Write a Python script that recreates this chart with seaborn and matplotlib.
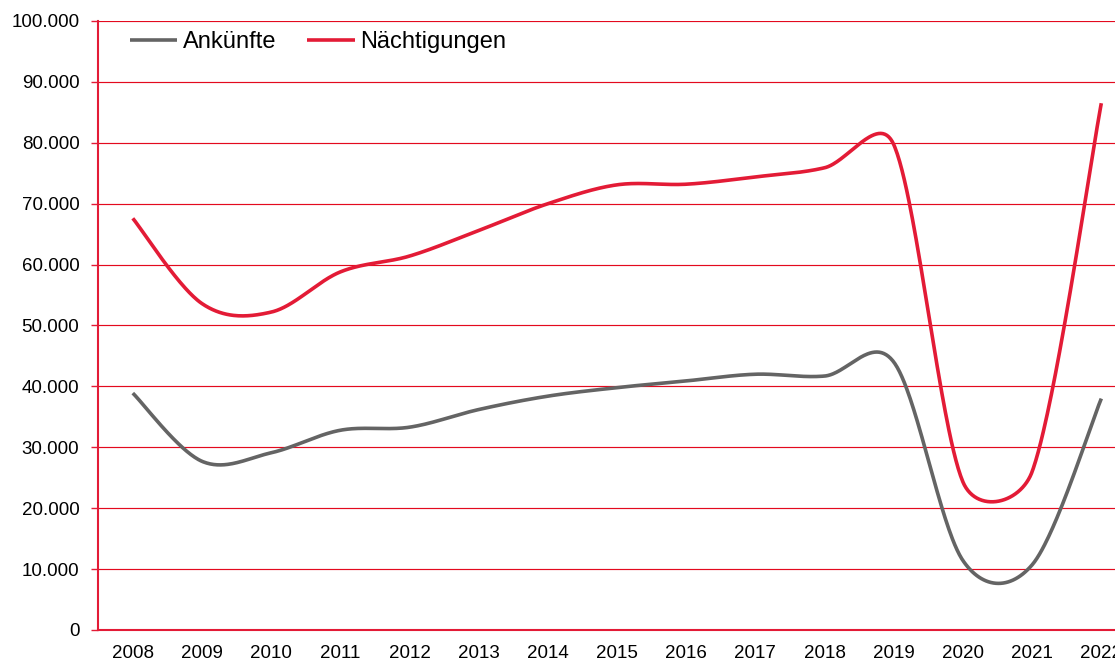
"""
Ankünfte und Nächtigungen 2008-2022 as smoothed line chart (Excel-style curve).
"""

import numpy as np
import pandas as pd
import seaborn as sns
import matplotlib.pyplot as plt
from matplotlib.ticker import FuncFormatter, FixedLocator

# Data
years = [str(y) for y in range(2008, 2023)]
ankuenfte = [38900, 27700, 29100, 32800, 33300, 36200, 38400, 39800,
             40900, 42000, 41700, 44000, 11400, 10700, 38000]
naechtigungen = [67600, 53600, 52200, 58800, 61400, 65600, 70000, 73100,
                 73200, 74400, 75900, 79700, 24300, 26000, 86500]

RED = "#E31B36"
GRAY = "#646464"
GRID_RED = "#E30A1E"

sns.set_style("white")
plt.rcParams["font.family"] = ["Liberation Sans", "DejaVu Sans"]
plt.rcParams["text.color"] = "black"
plt.rcParams["xtick.labelcolor"] = "black"
plt.rcParams["ytick.labelcolor"] = "black"

fig = plt.figure(figsize=(11.15, 6.61), dpi=100)
# category axis runs past the right edge of the picture, like the reference crop
ax = fig.add_axes([98.2 / 1115, 31 / 661, 15 * 69.18 / 1115, 609 / 661])
ax.set_xlim(-0.5, len(years) - 0.5)
ax.set_ylim(0, 100000)


def excel_smooth(xs, ys, n=60):
    """Bezier smoothing like Excel: handle = min(|P[i+1]-P[i-1]|/6, segment/2), in pixels."""
    pts = ax.transData.transform(np.column_stack([xs, ys]))
    m = len(pts)
    out = []
    for i in range(m - 1):
        p0 = pts[max(i - 1, 0)]
        p1 = pts[i]
        p2 = pts[i + 1]
        p3 = pts[min(i + 2, m - 1)]
        seg = np.linalg.norm(p2 - p1)

        d02 = p2 - p0
        l02 = np.linalg.norm(d02)
        h1 = min(l02 / 6, seg / 2)
        c1 = p1 + (d02 / l02 * h1 if l02 > 0 else 0)

        d13 = p3 - p1
        l13 = np.linalg.norm(d13)
        h2 = min(l13 / 6, seg / 2)
        c2 = p2 - (d13 / l13 * h2 if l13 > 0 else 0)

        t = np.linspace(0, 1, n)[:, None]
        if i > 0:
            t = t[1:]
        bez = ((1 - t) ** 3) * p1 + 3 * ((1 - t) ** 2) * t * c1 \
            + 3 * (1 - t) * t ** 2 * c2 + t ** 3 * p2
        out.append(bez)
    curve = np.vstack(out)
    return ax.transData.inverted().transform(curve)


xpos = np.arange(len(years))
series = [("Ankünfte", ankuenfte, GRAY), ("Nächtigungen", naechtigungen, RED)]
for name, vals, col in series:
    curve = excel_smooth(xpos, vals)
    df = pd.DataFrame({"x": curve[:, 0], "y": curve[:, 1]})
    sns.lineplot(data=df, x="x", y="y", sort=False, color=col, linewidth=2.6,
                 label=name, ax=ax, solid_capstyle="butt", zorder=3)

# y axis: German thousands separator
ax.yaxis.set_major_locator(FixedLocator(np.arange(0, 100001, 10000)))
ax.yaxis.set_major_formatter(FuncFormatter(lambda v, p: f"{int(v):,}".replace(",", ".")))
ax.yaxis.grid(True, color=GRID_RED, linewidth=0.85)
ax.xaxis.grid(False)

# x axis: labels in the middle of the categories, ticks between them
ax.set_xticks(xpos)
ax.set_xticklabels(years)
ax.set_xticks(np.arange(-0.5, len(years), 1.0), minor=True)
ax.tick_params(axis="x", which="major", length=0, pad=11, labelsize=13.5)
ax.tick_params(axis="x", which="minor", length=5, width=1, color=RED, direction="out")
ax.tick_params(axis="y", length=5, width=1, color=RED, direction="out", pad=8.5,
               labelsize=13.5, left=True)

for side in ["top", "right"]:
    ax.spines[side].set_visible(False)
for side in ["left", "bottom"]:
    ax.spines[side].set_color(RED)
    ax.spines[side].set_linewidth(1.5)

ax.set_xlabel("")
ax.set_ylabel("")

ax.legend(loc="center left", bbox_to_anchor=(130 / 1115, 1 - 42 / 661),
          bbox_transform=fig.transFigure, ncol=2, frameon=False, fontsize=17,
          handlelength=2.0, handletextpad=0.25, columnspacing=1.3,
          borderpad=0, borderaxespad=0)

plt.savefig("out.png", dpi=100)
